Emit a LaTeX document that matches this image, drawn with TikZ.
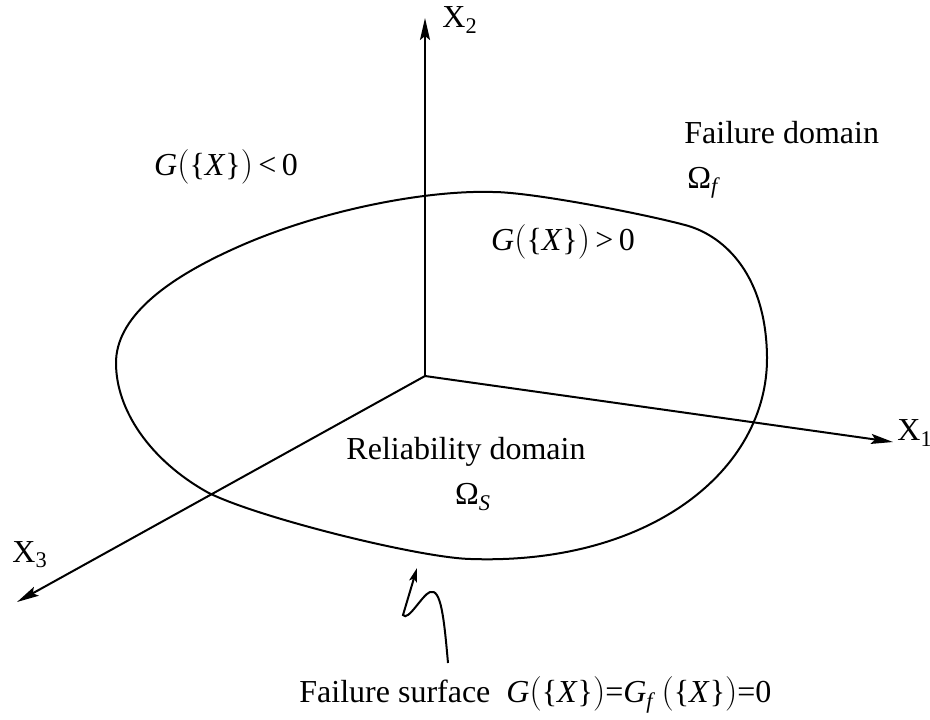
\documentclass[tikz,border=0pt]{standalone}
\usepackage{fontspec}
\setmainfont{Liberation Serif}
\usetikzlibrary{arrows.meta}

\begin{document}
\begin{tikzpicture}[
    x=0.5pt, y=-0.5pt,
    axis/.style={line width=1pt, -{Stealth[length=11pt, width=5pt, inset=2pt]}},
    ptr/.style={line width=1pt, -{Stealth[length=7pt, width=4pt, inset=1.5pt]}},
    lbl/.style={font=\fontsize{16}{19}\selectfont, inner sep=0pt, align=center}
]
\useasboundingbox (0,0) rectangle (930,719);

% axes
\coordinate (O) at (425,376);
\coordinate (e2) at (425,18);
\coordinate (e1) at (893,442);
\coordinate (e3) at (17,602);
\draw[axis] (O) -- (e2);
\draw[axis] (O) -- (e1);
\draw[axis] (O) -- (e3);
\node[lbl, anchor=west] (x2) at (442,20) {X\textsubscript{2}};
\node[lbl, anchor=west] (x1) at (897,433) {X\textsubscript{1}};
\node[lbl, anchor=west] (x3) at (12,555) {X\textsubscript{3}};

% limit state surface
\draw[line width=1pt] (493,192) .. controls (530,192) and (640,213) .. (685,225)
    .. controls (720,234) and (766,270) .. (767,357)
    .. controls (768,470) and (650,565) .. (471,559)
    .. controls (420,558) and (255,517) .. (207,492)
    .. controls (150,460) and (116,410) .. (116,363)
    .. controls (116,320) and (160,280) .. (247,243)
    .. controls (330,208) and (430,190) .. (493,192) -- cycle;

\node[lbl] (neg) at (226,167) {\textit{G}$\bigl($\{\textit{X}\}$\bigr)$\,<\,0};
\node[lbl] (pos) at (563,242) {\textit{G}$\bigl($\{\textit{X}\}$\bigr)$\,>\,0};
\node[lbl, anchor=west] (fail) at (684,133) {Failure domain};
\node[lbl, anchor=west] (omf) at (687,183) {Ω\textsubscript{\textit{f}}};
\node[lbl] (rel) at (466,452) {Reliability domain};
\node[lbl] (oms) at (473,497) {Ω\textsubscript{\textit{S}}};

% pointer to the surface
\coordinate (tail) at (448,663);
\coordinate (peak) at (430,592);
\coordinate (kink) at (403,615);
\coordinate (tip) at (417,568);
\draw[ptr] (tail) .. controls (444,618) and (441,588) .. (peak)
    .. controls (422,595) and (408,622) .. (kink) -- (tip);
\node[lbl, anchor=west] (surf) at (299,695) {Failure surface \ \textit{G}$\bigl($\{\textit{X}\}$\bigr)$=\textit{G}\textsubscript{\textit{f}}\,$\bigl($\{\textit{X}\}$\bigr)$=0};
\end{tikzpicture}
\end{document}
